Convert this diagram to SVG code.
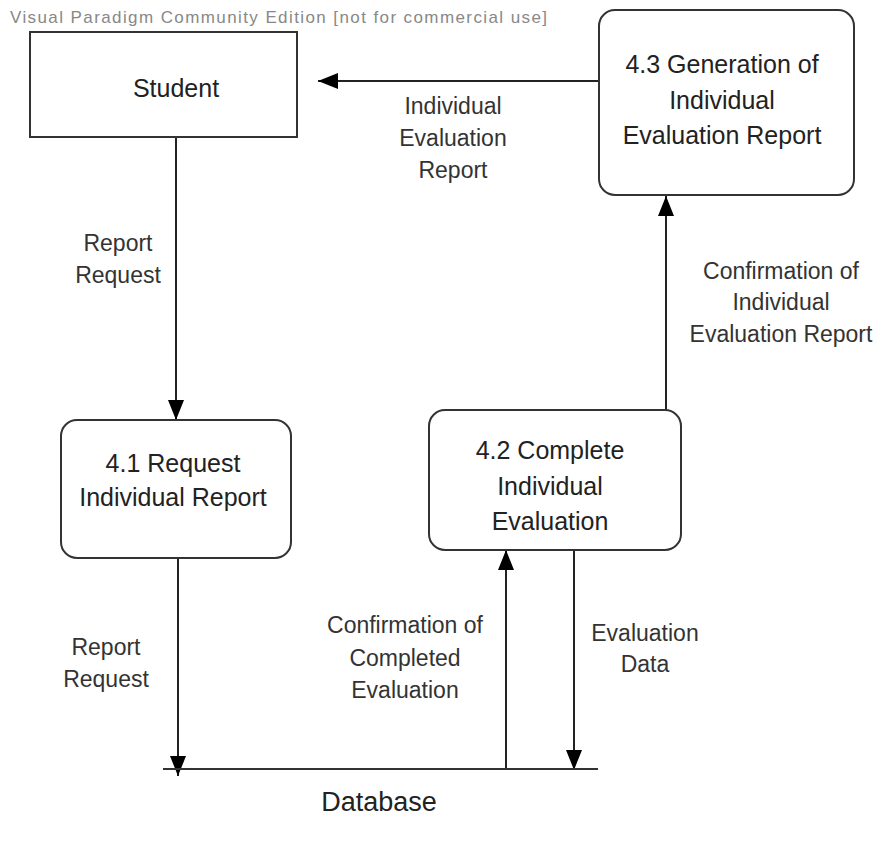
<svg xmlns="http://www.w3.org/2000/svg" width="883" height="854" viewBox="0 0 883 854">
<defs>
<style>
.box{fill:#fff;stroke:#333;stroke-width:2}
.nt{font-family:"Liberation Sans",Arial,sans-serif;font-size:25px;fill:#222;text-anchor:middle}
.lb{font-family:"Liberation Sans",Arial,sans-serif;font-size:23px;fill:#333;text-anchor:middle}
.ln{fill:none;stroke:#222;stroke-width:2}
</style>
<marker id="ah" markerUnits="userSpaceOnUse" markerWidth="22" markerHeight="18" refX="20" refY="8" orient="auto">
<path d="M0,0 L20,8 L0,16 z" fill="#000"/>
</marker>
</defs>
<rect width="883" height="854" fill="#fff"/>
<text x="10" y="23" font-family="Liberation Sans,Arial,sans-serif" font-size="17" fill="#888" textLength="537" lengthAdjust="spacing">Visual Paradigm Community Edition [not for commercial use]</text>
<g id="connectors">
<line class="ln" x1="598" y1="81" x2="318" y2="81" marker-end="url(#ah)"/>
<line class="ln" x1="176" y1="137" x2="176" y2="420" marker-end="url(#ah)"/>
<line class="ln" x1="178" y1="558" x2="178" y2="776" marker-end="url(#ah)"/>
<line class="ln" x1="506" y1="769" x2="506" y2="550" marker-end="url(#ah)"/>
<line class="ln" x1="574" y1="550" x2="574" y2="770" marker-end="url(#ah)"/>
<line class="ln" x1="666" y1="410" x2="666" y2="196" marker-end="url(#ah)"/>
<text class="lb"><tspan x="453" y="114">Individual</tspan><tspan x="453" y="146">Evaluation</tspan><tspan x="453" y="178">Report</tspan></text>
<text class="lb"><tspan x="118" y="251">Report</tspan><tspan x="118" y="283">Request</tspan></text>
<text class="lb"><tspan x="106" y="655">Report</tspan><tspan x="106" y="687">Request</tspan></text>
<text class="lb"><tspan x="405" y="633">Confirmation of</tspan><tspan x="405" y="666">Completed</tspan><tspan x="405" y="698">Evaluation</tspan></text>
<text class="lb"><tspan x="645" y="641">Evaluation</tspan><tspan x="645" y="672">Data</tspan></text>
<text class="lb"><tspan x="781" y="279">Confirmation of</tspan><tspan x="781" y="310">Individual</tspan><tspan x="781" y="342">Evaluation Report</tspan></text>
</g>
<g id="student">
<rect class="box" x="30" y="32" width="267" height="105"/>
<text class="nt" x="176" y="97" font-size="24">Student</text>
</g>
<g id="p43">
<rect class="box" x="599" y="10" width="255" height="185" rx="16"/>
<text class="nt"><tspan x="722" y="73">4.3 Generation of</tspan><tspan x="722" y="109">Individual</tspan><tspan x="722" y="144">Evaluation Report</tspan></text>
</g>
<g id="p41">
<rect class="box" x="61" y="420" width="230" height="138" rx="16"/>
<text class="nt"><tspan x="173" y="472">4.1 Request</tspan><tspan x="173" y="506">Individual Report</tspan></text>
</g>
<g id="p42">
<rect class="box" x="429" y="410" width="252" height="140" rx="16"/>
<text class="nt"><tspan x="550" y="459">4.2 Complete</tspan><tspan x="550" y="495">Individual</tspan><tspan x="550" y="530">Evaluation</tspan></text>
</g>
<g id="database">
<line x1="163" y1="769" x2="598" y2="769" stroke="#333" stroke-width="2"/>
<text x="379" y="811" font-family="Liberation Sans,Arial,sans-serif" font-size="27" fill="#222" text-anchor="middle">Database</text>
</g>
</svg>
